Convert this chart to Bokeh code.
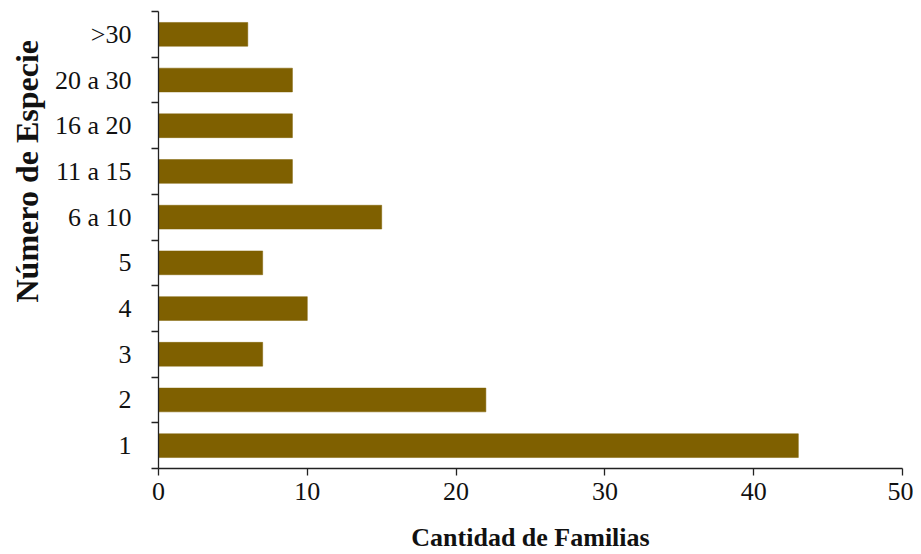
from bokeh.plotting import figure
from bokeh.models import FixedTicker, Range1d, ColumnDataSource, Title
from bokeh.embed import file_html
from bokeh.resources import INLINE

# ---- data ----
categories = ["1", "2", "3", "4", "5", "6 a 10", "11 a 15", "16 a 20", "20 a 30", ">30"]
familias = [43, 22, 7, 10, 7, 15, 9, 9, 9, 6]
x_ticks = [0, 10, 20, 30, 40, 50]
x_title = "Cantidad de Familias"
y_title = "Número de Especie"

positions = list(range(1, len(categories) + 1))
boundaries = [i + 0.5 for i in range(0, len(categories) + 1)]

FONT = "Liberation Serif"
BAR = "#7F6000"

src = ColumnDataSource(dict(y=positions, right=familias, cat=categories))

p = figure(width=913, height=554, output_backend="svg", toolbar_location=None,
           x_range=Range1d(x_ticks[0], x_ticks[-1]),
           y_range=Range1d(0.5, len(categories) + 0.5),
           min_border_left=157, min_border_right=11, min_border_top=11,
           min_border_bottom=10)
p.outline_line_color = None
p.grid.visible = False
p.background_fill_color = "white"
p.border_fill_color = "white"

p.hbar(y="y", right="right", left=0, height=0.52, source=src,
       fill_color=BAR, line_color=BAR, line_width=0.5)

# x axis
xa = p.xaxis[0]
xa.ticker = FixedTicker(ticks=x_ticks)
xa.major_tick_out = 7
xa.major_tick_in = 0
xa.minor_tick_out = 0
xa.minor_tick_in = 0
xa.axis_line_color = "#222222"
xa.axis_line_width = 1.3
xa.major_tick_line_color = "#222222"
xa.major_tick_line_width = 1.3
xa.major_label_text_font = FONT
xa.major_label_text_font_size = "26px"
xa.major_label_text_color = "#111111"
xa.major_label_standoff = 7
xa.axis_label = x_title
xa.axis_label_text_font = FONT
xa.axis_label_text_font_style = "bold"
xa.axis_label_text_font_size = "26px"
xa.axis_label_text_color = "#111111"
xa.axis_label_standoff = 20

# y axis: labels at category centres, ticks at boundaries
ya = p.yaxis[0]
ya.ticker = FixedTicker(ticks=positions, minor_ticks=boundaries)
ya.major_label_overrides = {pos: c for pos, c in zip(positions, categories)}
ya.major_tick_out = 0
ya.major_tick_in = 0
ya.minor_tick_out = 7
ya.minor_tick_in = 0
ya.minor_tick_line_color = "#222222"
ya.minor_tick_line_width = 1.3
ya.axis_line_color = "#222222"
ya.axis_line_width = 1.3
ya.major_label_text_font = FONT
ya.major_label_text_font_size = "26px"
ya.major_label_text_color = "#111111"
ya.major_label_standoff = 20

p.add_layout(Title(text=y_title, align="left", offset=166,
                   text_font=FONT, text_font_style="bold",
                   text_font_size="32px", text_color="#111111",
                   standoff=13), "left")

open("out.html", "w").write(file_html(p, INLINE))
